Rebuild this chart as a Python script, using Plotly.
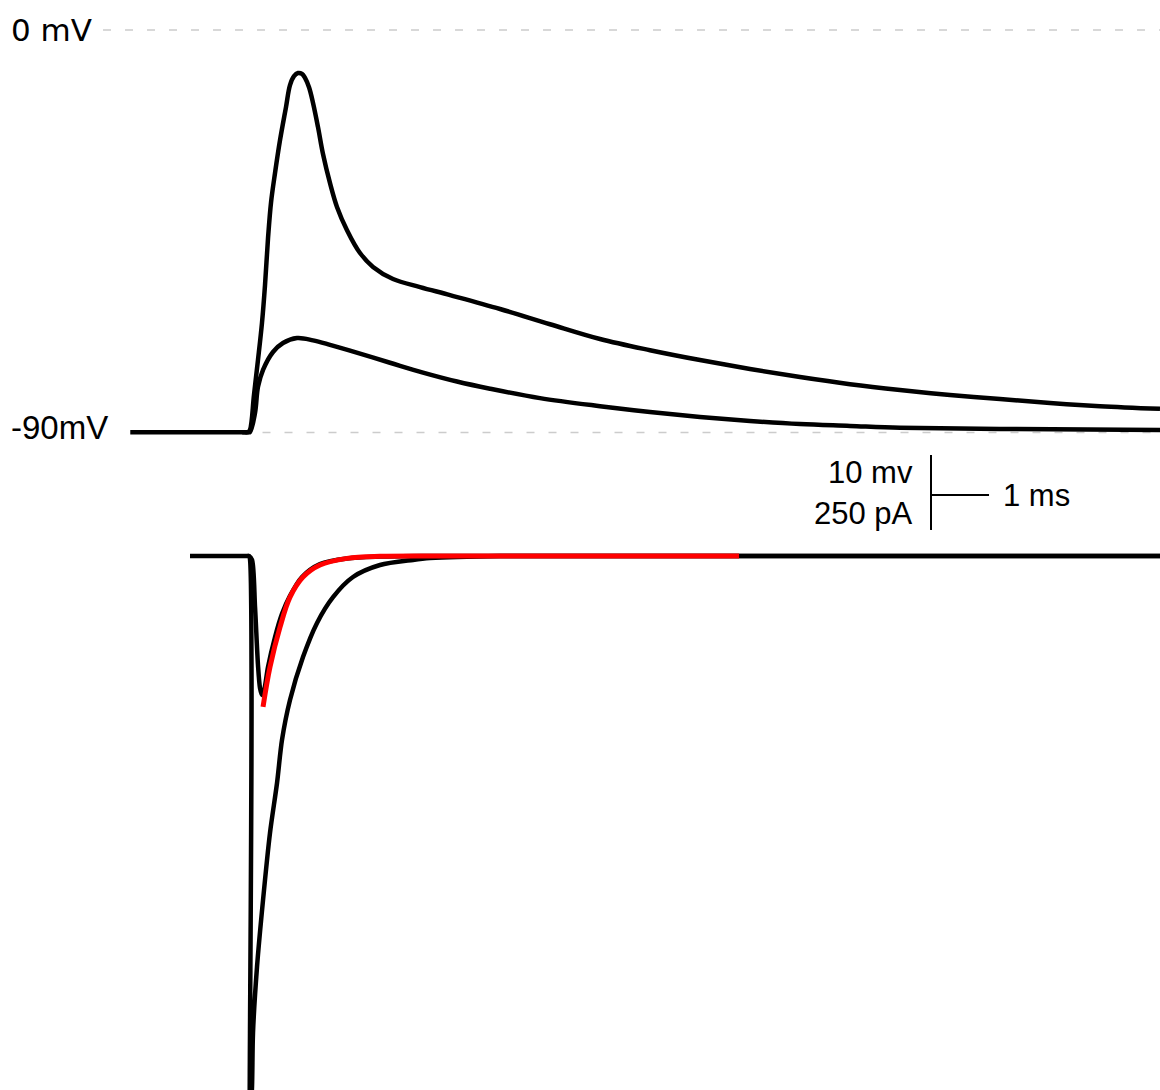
import plotly.graph_objects as go

# ---- data (time in ms, voltage in mV, current in pA) ----
ap_t = [-2.03, -0.4, -0.1, 0.0, 0.034, 0.103, 0.172, 0.241, 0.293, 0.345, 0.397, 0.466, 0.552, 0.655,
        0.724, 0.793, 0.862, 0.931, 0.983, 1.052, 1.121, 1.207, 1.293, 1.414, 1.534, 1.707, 1.931, 2.155,
        2.5, 2.966, 3.483, 4.345, 5.207, 6.069, 6.931, 7.793, 8.655, 9.517, 10.379, 11.241,
        12.103, 12.966, 13.828, 14.69, 15.724]
ap_v = [-89.8, -89.8, -89.8, -89.8, -89.3, -81.5, -73.7, -65.4, -57.0, -46.5, -38.5, -31.9, -24.6, -17.2,
        -12.3, -10.3, -9.6, -9.8, -10.7, -12.8, -16.3, -21.7, -27.7, -34.2, -39.5, -44.7, -49.8, -52.9,
        -55.6, -57.4, -59.2, -62.3, -65.7, -69.0, -71.5, -73.7, -75.7, -77.5, -79.1, -80.4,
        -81.5, -82.4, -83.3, -84.0, -84.6]

epsp_t = [-0.1, 0.0, 0.034, 0.121, 0.172, 0.259, 0.431, 0.603, 0.845, 1.121, 1.414, 1.759, 2.448, 3.017,
          3.603, 4.172, 5.034, 6.069, 6.931, 7.793, 8.655, 9.517, 10.379, 11.241, 12.966, 15.724]
epsp_v = [-89.8, -89.8, -89.8, -85.5, -79.7, -75.9, -71.9, -69.9, -68.8, -69.3, -70.3, -71.6, -74.3, -76.5,
          -78.5, -80.1, -82.2, -84.0, -85.3, -86.4, -87.3, -88.0, -88.4, -88.8, -89.1, -89.3]

big_i_t = [-1.0, -0.1, 0.0, 0.017, 0.034, 0.069, 0.086, 0.155, 0.259, 0.379, 0.5, 0.586, 0.724, 0.948,
           1.19, 1.466, 1.81, 2.276, 2.845, 3.138, 4.345, 15.724]
big_i = [0, 0, 0, 0, -1900, -1770, -1590, -1370, -1147, -923, -757, -613, -480, -337,
         -223, -137, -70, -30, -13, -7, 0, 0]

small_i_t = [0.0, 0.017, 0.069, 0.121, 0.172, 0.207, 0.241, 0.276, 0.345, 0.466, 0.586, 0.724,
             0.931, 1.241, 1.707, 2.276, 3.0, 15.724]
small_i = [0, 0, -13, -170, -363, -440, -463, -450, -370, -270, -193, -133,
           -70, -27, -8, -2, 0, 0]

fit_t = [0.259, 0.379, 0.552, 0.724, 0.948, 1.241, 1.707, 2.276, 3.483, 5.5, 8.466]
fit_i = [-503, -370, -237, -137, -70, -30, -8, -1, 0, 0, 0]

ref_levels_mv = [0, -90]
ref_labels = ["0 mV", "-90mV"]
scale_ms = 1.0
scale_pa = 250
scale_labels = ["10 mv", "250 pA", "1 ms"]

# ---- figure ----
fig = go.Figure()

dash_style = dict(color="#cccccc", width=1.5, dash="8px,14px")
fig.add_trace(go.Scatter(x=[-2.5, 15.724], y=[ref_levels_mv[0]] * 2, mode="lines",
                         line=dash_style, yaxis="y", hoverinfo="skip"))
fig.add_trace(go.Scatter(x=[0.25, 15.724], y=[ref_levels_mv[1] + 0.1] * 2, mode="lines",
                         line=dash_style, yaxis="y", hoverinfo="skip"))

LW = 4.5
# voltage traces
fig.add_trace(go.Scatter(x=ap_t, y=ap_v, mode="lines",
                         line=dict(color="black", width=LW, shape="spline", smoothing=1.0), yaxis="y"))
fig.add_trace(go.Scatter(x=epsp_t, y=epsp_v, mode="lines",
                         line=dict(color="black", width=LW, shape="spline", smoothing=1.0), yaxis="y"))

# current traces
fig.add_trace(go.Scatter(x=big_i_t, y=big_i, mode="lines",
                         line=dict(color="black", width=LW, shape="spline", smoothing=0.8), yaxis="y2"))
fig.add_trace(go.Scatter(x=small_i_t, y=small_i, mode="lines",
                         line=dict(color="black", width=LW, shape="spline", smoothing=0.8), yaxis="y2"))
fig.add_trace(go.Scatter(x=fit_t, y=fit_i, mode="lines",
                         line=dict(color="#ff0000", width=5, shape="spline", smoothing=1.0), yaxis="y2"))

# scale bar
sb_x = 11.776
sb_y0 = 86.7
fig.add_trace(go.Scatter(x=[sb_x, sb_x], y=[sb_y0, sb_y0 + scale_pa], mode="lines",
                         line=dict(color="black", width=2), yaxis="y2"))
fig.add_trace(go.Scatter(x=[sb_x, sb_x + scale_ms], y=[203.3, 203.3], mode="lines",
                         line=dict(color="black", width=2), yaxis="y2"))

arial = "Liberation Sans, Arial, sans-serif"
ann = []
ann.append(dict(x=-4.12, y=ref_levels_mv[0], xref="x", yref="y", text=ref_labels[0], showarrow=False,
                xanchor="left", yanchor="middle", font=dict(family="DejaVu Sans", size=31, color="black")))
ann.append(dict(x=-4.12, y=-88.7, xref="x", yref="y", text=ref_labels[1], showarrow=False,
                xanchor="left", yanchor="middle", font=dict(family=arial, size=33, color="black")))
ann.append(dict(x=11.50, y=276.7, xref="x", yref="y2", text=scale_labels[0], showarrow=False,
                xanchor="right", yanchor="middle", font=dict(family=arial, size=31, color="black")))
ann.append(dict(x=11.50, y=143.0, xref="x", yref="y2", text=scale_labels[1], showarrow=False,
                xanchor="right", yanchor="middle", font=dict(family=arial, size=31, color="black")))
ann.append(dict(x=12.98, y=203.0, xref="x", yref="y2", text=scale_labels[2], showarrow=False,
                xanchor="left", yanchor="middle", font=dict(family=arial, size=31, color="black")))

fig.update_layout(
    width=1160, height=1090,
    margin=dict(l=0, r=0, t=0, b=0),
    paper_bgcolor="white", plot_bgcolor="white",
    showlegend=False,
    xaxis=dict(range=[-4.276, 15.724], visible=False, showgrid=False, zeroline=False),
    yaxis=dict(range=[-236.7, 6.70], visible=False, showgrid=False, zeroline=False),
    yaxis2=dict(range=[-1780, 1853.3], visible=False, showgrid=False, zeroline=False, overlaying="y"),
    annotations=ann,
)

fig.write_html("out.html")
